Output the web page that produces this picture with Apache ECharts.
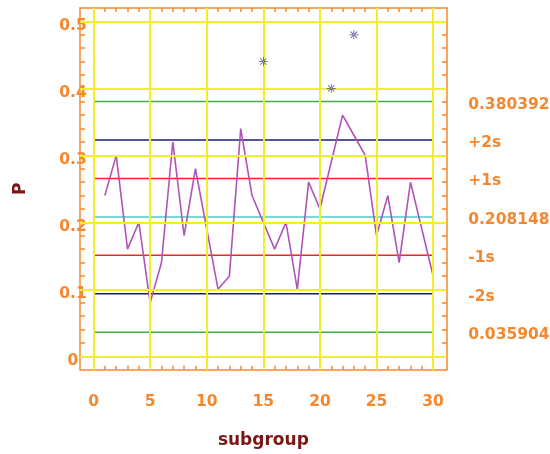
<!DOCTYPE html>
<html>
<head>
<meta charset="utf-8">
<script src="https://cdn.jsdelivr.net/npm/echarts@6/dist/echarts.min.js"></script>
<style>html,body{margin:0;padding:0;background:#fff;}#chart{width:550px;height:454px;}</style>
</head>
<body>
<div id="chart"></div>
<script>
// ---- data ----
const subgroups = [1,2,3,4,5,6,7,8,9,10,11,12,13,14,15,16,17,18,19,20,21,22,23,24,25,26,27,28,29,30];
const pValues = [0.24,0.30,0.16,0.20,0.08,0.14,0.32,0.18,0.28,0.19,0.10,0.12,0.34,0.24,0.20,0.16,0.20,0.10,0.26,0.22,0.29,0.36,0.33,0.30,0.18,0.24,0.14,0.26,0.19,0.12];
const markX = [15, 21, 23];
const markY = [0.44, 0.40, 0.48];
const limitValues = [0.380392, 0.322975, 0.265563, 0.208148, 0.150733, 0.093319, 0.035904];
const limitLabels = ['0.380392', '+2s', '+1s', '0.208148', '-1s', '-2s', '0.035904'];
const xLabelValues = [0, 5, 10, 15, 20, 25, 30];
const xLabelTexts = ['0', '5', '10', '15', '20', '25', '30'];
const yLabelValues = [0, 0.1, 0.2, 0.3, 0.4, 0.5];
const yLabelTexts = ['0', '0.1', '0.2', '0.3', '0.4', '0.5'];
const limitStart = 0, limitEnd = 30;

// ---- styles ----
const limitColors = ['#3cb043', '#1c1c78', '#ff2020', '#4cc8d8', '#ff2020', '#1c1c78', '#3cb043'];
const ORANGE = '#f5882e';
const TITLE = '#7a1616';
const YELLOW = '#f2ee2c';
const FONT = 'DejaVu Sans';

const xTicks = []; for (let i = 0; i <= 30; i++) xTicks.push(i);
const yTicks = []; for (let i = 0; i <= 25; i++) yTicks.push(Math.round(i * 2) / 100);

function nearestLabel(v, vals, texts) {
  let best = 0;
  for (let i = 1; i < vals.length; i++) if (Math.abs(vals[i] - v) < Math.abs(vals[best] - v)) best = i;
  return texts[best];
}

const lineStyleAxis = { color: ORANGE, width: 1.5 };
const labelBase = { color: ORANGE, fontFamily: FONT, fontWeight: 'bold', fontSize: 15.5 };
const richText = { color: ORANGE, fontFamily: FONT, fontWeight: 'bold', fontSize: 15.5 };

const star = 'path://M-5,-0.4H5V0.4H-5Z M-0.4,-5H0.4V5H-0.4Z M-3.8,-3.2L3.2,3.8L3.8,3.2L-3.2,-3.8Z M-3.2,3.8L3.8,-3.2L3.2,-3.8L-3.8,3.2Z';

const series = [];
series.push({
  type: 'line', data: [], silent: true,
  markLine: {
    silent: true, symbol: 'none', animation: false,
    label: { show: false },
    lineStyle: { color: YELLOW, width: 2, type: 'solid' },
    emphasis: { disabled: true },
    data: xLabelValues.map(v => ({ xAxis: v })).concat(yLabelValues.map(v => ({ yAxis: v })))
  }
});
limitValues.forEach((v, i) => {
  series.push({
    type: 'line', silent: true, symbol: 'none',
    data: [[limitStart, v], [limitEnd, v]],
    lineStyle: { color: limitColors[i], width: 1.5 },
    z: 3
  });
});
series.push({
  type: 'line', silent: true, symbol: 'none',
  data: subgroups.map((s, i) => [s, pValues[i]]),
  lineStyle: { color: '#b054b8', width: 1.6 },
  z: 4
});
series.push({
  type: 'scatter', silent: true,
  data: markX.map((x, i) => [x, markY[i]]),
  symbol: star, symbolSize: 9,
  itemStyle: { color: '#22226e' },
  z: 5
});

const option = {
  animation: false,
  backgroundColor: '#ffffff',
  grid: { left: 80, top: 8, width: 366.7, height: 361.7, containLabel: false, outerBoundsMode: 'none' },
  xAxis: [{
    type: 'value', min: -1.2, max: 31.2, position: 'bottom',
    name: 'subgroup', nameLocation: 'middle', nameGap: 62,
    nameTextStyle: { color: TITLE, fontFamily: FONT, fontWeight: 'bold', fontSize: 17 },
    axisLine: { show: true, onZero: false, lineStyle: lineStyleAxis },
    axisTick: { show: true, inside: true, length: 4, customValues: xTicks, lineStyle: lineStyleAxis },
    axisLabel: Object.assign({ margin: 24, customValues: xLabelValues,
      formatter: v => nearestLabel(v, xLabelValues, xLabelTexts) }, labelBase),
    splitLine: { show: false }
  }, {
    type: 'value', min: -1.2, max: 31.2, position: 'top',
    axisLine: { show: true, onZero: false, lineStyle: lineStyleAxis },
    axisTick: { show: true, inside: true, length: 4, customValues: xTicks, lineStyle: lineStyleAxis },
    axisLabel: { show: false },
    splitLine: { show: false }
  }],
  yAxis: [{
    type: 'value', min: -0.02, max: 0.52, position: 'left',
    name: 'P', nameLocation: 'middle', nameGap: 51, nameRotate: 90,
    nameTextStyle: { color: TITLE, fontFamily: FONT, fontWeight: 'bold', fontSize: 17 },
    axisLine: { show: true, onZero: false, lineStyle: lineStyleAxis },
    axisTick: { show: true, inside: true, length: 5, customValues: yTicks, lineStyle: lineStyleAxis },
    axisLabel: Object.assign({ margin: 7, align: 'center', customValues: yLabelValues,
      formatter: v => '{t|' + nearestLabel(v, yLabelValues, yLabelTexts) + '}',
      rich: { t: Object.assign({ padding: [9, 0, 0, 0] }, richText) } }, labelBase),
    splitLine: { show: false }
  }, {
    type: 'value', min: -0.02, max: 0.52, position: 'right',
    axisLine: { show: true, onZero: false, lineStyle: lineStyleAxis },
    axisTick: { show: true, inside: true, length: 5, customValues: yTicks, lineStyle: lineStyleAxis },
    axisLabel: Object.assign({ margin: 21.5, align: 'left', customValues: limitValues,
      formatter: v => '{t|' + nearestLabel(v, limitValues, limitLabels) + '}',
      rich: { t: Object.assign({ padding: [6, 0, 0, 0] }, richText) } }, labelBase),
    splitLine: { show: false }
  }],
  series: series
};

const chart = echarts.init(document.getElementById('chart'), null, { renderer: 'canvas' });
chart.setOption(option);
</script>
</body>
</html>
